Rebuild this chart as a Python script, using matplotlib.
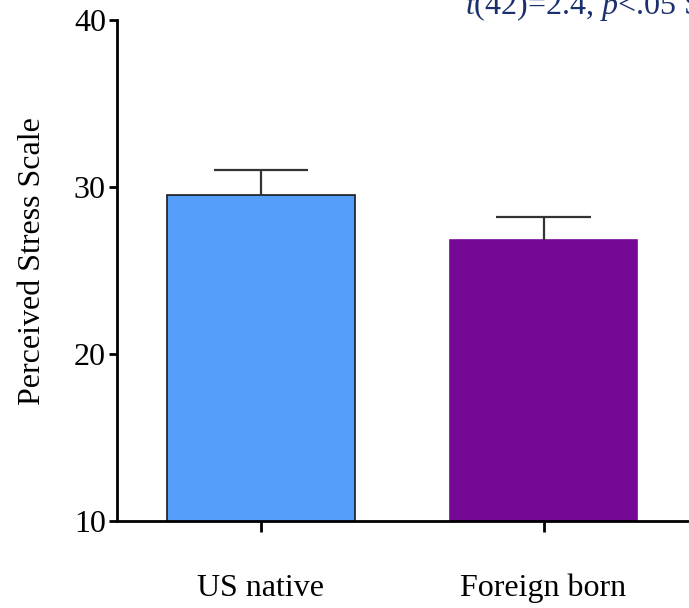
import matplotlib
matplotlib.use("Agg")
import matplotlib.pyplot as plt

categories = ["US native", "Foreign born"]
means = [29.5, 26.8]
sems = [1.5, 1.4]
colors = ["#559FFA", "#760896"]
edgecolors = ["#1a1a1a", "#760896"]
yticks = [10, 20, 30, 40]
stat_text = r"$\mathit{t}$(42)=2.4, $\mathit{p}$<.05 S"

plt.rcParams['font.family'] = ['Liberation Serif', 'DejaVu Serif']
plt.rcParams['mathtext.fontset'] = 'custom'
plt.rcParams['mathtext.rm'] = 'Liberation Serif'
plt.rcParams['mathtext.it'] = 'Liberation Serif:italic'

fig = plt.figure(figsize=(6.89, 6.08), dpi=100)
ax = fig.add_axes([117/689, 87/608, 572/689, 501/608])

x = list(range(len(categories)))
bar_w = 0.665
cap_w = 0.336
ax.bar(x, means, width=bar_w, color=colors, edgecolor=edgecolors, linewidth=1.2, zorder=2)
tops = [m + s for m, s in zip(means, sems)]
ax.vlines(x, means, tops, color='#333333', linewidth=1.6, zorder=3)
ax.hlines(tops, [xi - cap_w/2 for xi in x], [xi + cap_w/2 for xi in x],
          color='#333333', linewidth=1.6, zorder=3)

ax.set_xlim(-0.5097, 1.515)
ax.set_ylim(10, 40)
ax.set_yticks(yticks)
ax.set_xticks(x)
ax.set_xticklabels(categories, fontsize=23)
ax.tick_params(axis='y', labelsize=23, length=6, width=2, direction='out', pad=2)
ax.tick_params(axis='x', length=8, width=2, direction='out', pad=30)
for s in ['top', 'right']:
    ax.spines[s].set_visible(False)
for s in ['left', 'bottom']:
    ax.spines[s].set_linewidth(2)
ax.set_ylabel("Perceived Stress Scale", fontsize=23)
ax.yaxis.set_label_coords(-0.122, 0.519)

fig.text(465/689, 1 - 14/608, stat_text, fontsize=23, color='#1B2F6E', ha='left', va='baseline')

fig.savefig("out.png", dpi=100)
